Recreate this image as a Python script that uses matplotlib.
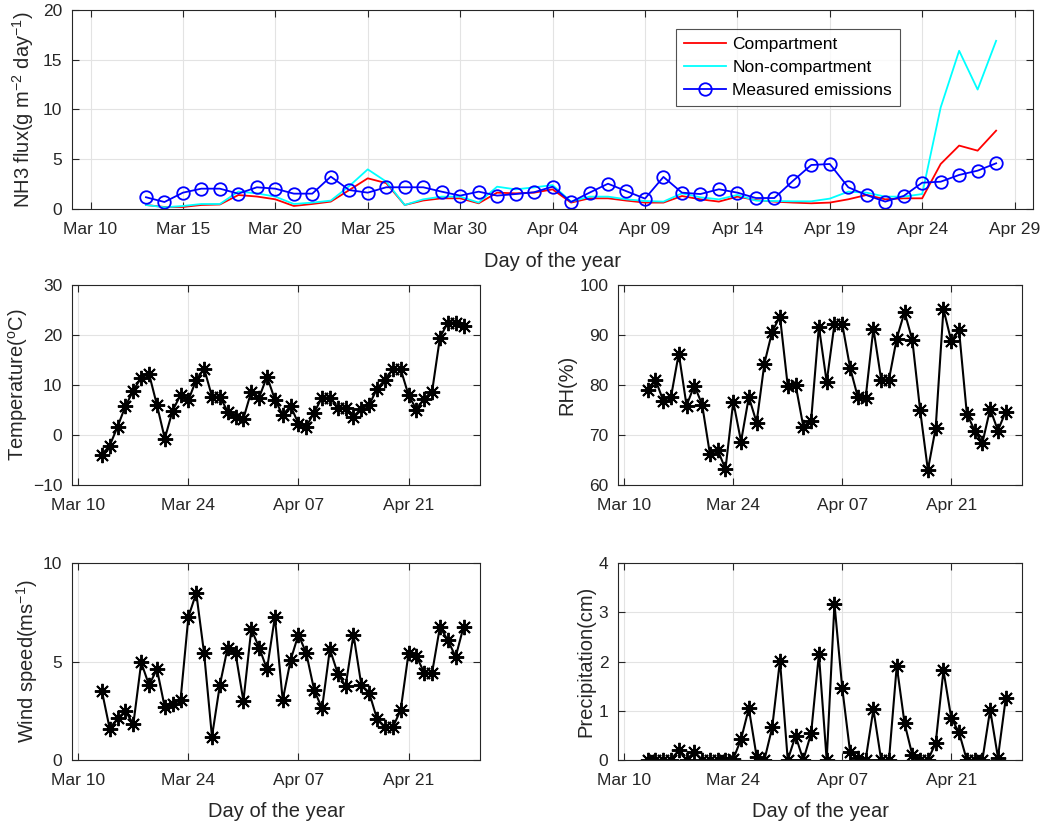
import numpy as np
import matplotlib
matplotlib.use("Agg")
import matplotlib.pyplot as plt
import matplotlib.dates as mdates

plt.rcParams['font.family'] = ['Liberation Sans', 'DejaVu Sans']
plt.rcParams['mathtext.default'] = 'regular'

# days Mar 13 .. Apr 28
days = np.arange('2017-03-13', '2017-04-29', dtype='datetime64[D]').astype('O')

compartment = [0.4, 0.2, 0.2, 0.4, 0.45, 1.4, 1.25, 0.97, 0.3, 0.5, 0.74, 1.9, 3.08, 2.6, 0.4, 0.85,
               1.07, 1.07, 0.57, 1.64, 1.57, 1.64, 1.97, 0.64, 1.07, 1.07, 0.84, 0.64, 0.64, 1.3, 0.97, 0.74,
               1.24, 0.9, 0.74, 0.64, 0.57, 0.64, 0.97, 1.41, 0.97, 1.07, 1.07, 4.52, 6.37, 5.86, 7.87]
non_compartment = [0.4, 0.17, 0.3, 0.5, 0.5, 1.75, 1.57, 1.24, 0.5, 0.64, 0.84, 2.3, 3.98, 2.75, 0.4, 0.97,
                   1.24, 1.24, 0.64, 2.24, 1.97, 2.17, 2.4, 0.74, 1.24, 1.24, 0.97, 0.8, 0.74, 1.57, 1.17, 0.97,
                   1.41, 0.84, 0.8, 0.77, 0.77, 1.04, 1.74, 1.64, 1.24, 1.24, 1.5, 10.2, 15.9, 12.0, 16.9]
measured = [1.18, 0.7, 1.64, 2.04, 2.04, 1.54, 2.18, 2.04, 1.54, 1.54, 3.25, 1.9, 1.64, 2.18, 2.18, 2.18,
            1.74, 1.34, 1.74, 1.34, 1.5, 1.68, 2.24, 0.7, 1.64, 2.54, 1.78, 1.04, 3.22, 1.64, 1.5, 1.98,
            1.64, 1.1, 1.1, 2.81, 4.42, 4.52, 2.18, 1.38, 0.74, 1.31, 2.64, 2.74, 3.42, 3.85, 4.59]

temperature = [-3.9, -2.1, 1.7, 5.8, 8.9, 11.5, 12.2, 6.0, -0.7, 4.9, 8.0, 7.0, 11.0, 13.3, 7.7, 7.7,
               4.7, 3.7, 3.3, 8.7, 7.5, 11.7, 7.1, 4.0, 5.8, 2.3, 1.7, 4.5, 7.5, 7.5, 5.5, 5.5,
               3.7, 5.3, 6.0, 9.3, 11.0, 13.2, 13.2, 8.0, 5.1, 7.3, 8.7, 19.5, 22.5, 22.5, 21.9]
rh = [79.0, 81.1, 76.9, 77.6, 86.3, 75.9, 79.9, 76.1, 66.2, 67.0, 63.2, 76.7, 68.7, 77.6, 72.5, 84.3,
      90.7, 93.7, 79.8, 80.1, 71.7, 72.9, 91.7, 80.6, 92.2, 92.2, 83.5, 77.6, 77.4, 91.3, 81.1, 81.1,
      89.3, 94.6, 89.0, 75.0, 63.0, 71.4, 95.2, 88.8, 91.0, 74.3, 70.9, 68.4, 75.2, 70.9, 74.7]
wind = [3.5, 1.57, 2.11, 2.48, 1.82, 4.95, 3.8, 4.61, 2.67, 2.84, 3.04, 7.26, 8.48, 5.41, 1.18, 3.8,
        5.71, 5.41, 2.99, 6.64, 5.71, 4.61, 7.26, 3.04, 5.07, 6.37, 5.41, 3.55, 2.62, 5.63, 4.39, 3.75,
        6.37, 3.8, 3.41, 2.08, 1.66, 1.66, 2.53, 5.41, 5.27, 4.43, 4.43, 6.76, 6.08, 5.24, 6.76]
precip = [0, 0, 0, 0, 0.2, 0, 0.17, 0, 0, 0, 0, 0.02, 0.42, 1.05, 0.07, 0.0,
          0.66, 2.02, 0, 0.49, 0, 0.54, 2.15, 0, 3.17, 1.46, 0.17, 0.05, 0, 1.03, 0, 0,
          1.91, 0.75, 0.1, 0, 0, 0.34, 1.82, 0.85, 0.56, 0, 0, 0, 1.02, 0.05, 1.25]

ink = '#262626'
grid_c = '#e3e3e3'
star = (8, 2, 0)


def style(ax):
    ax.tick_params(direction='in', top=True, right=True, colors=ink, labelsize=12.5,
                   length=5, width=0.8)
    ax.tick_params(axis='x', pad=9.5)
    ax.tick_params(axis='y', pad=7)
    for s in ax.spines.values():
        s.set_color(ink)
        s.set_linewidth(0.8)
    ax.grid(True, color=grid_c, linewidth=0.8)
    ax.set_axisbelow(True)


fig = plt.figure(figsize=(10.47, 8.24), dpi=100)

# top panel: NH3 flux
ax = fig.add_axes([0.0688, 0.7464, 0.9179, 0.2415])
ax.plot(days, compartment, color='red', lw=1.3, label='Compartment')
ax.plot(days, non_compartment, color='cyan', lw=1.3, label='Non-compartment')
ax.plot(days, measured, color='blue', lw=1.3, marker='o', ms=9, mfc='none', mew=1.3,
        label='Measured emissions')
ax.set_xlim(np.datetime64('2017-03-09').astype('O'), np.datetime64('2017-04-30').astype('O'))
ax.set_ylim(0, 20)
ax.set_yticks([0, 5, 10, 15, 20])
ticks = np.arange('2017-03-10', '2017-04-30', 5, dtype='datetime64[D]').astype('O')
ax.set_xticks(ticks)
ax.xaxis.set_major_formatter(mdates.DateFormatter('%b %d'))
ax.set_xlabel('Day of the year', fontsize=14.5, color=ink, labelpad=11)
ax.set_ylabel('NH3 flux(g m$^{-2}$ day$^{-1}$)', fontsize=14.5, color=ink, labelpad=5)
style(ax)
leg = ax.legend(loc='upper left', bbox_to_anchor=(0.6285, 0.905), fontsize=12.5, frameon=True,
                fancybox=False, edgecolor=ink, borderpad=0.45, borderaxespad=0,
                handlelength=2.4, handletextpad=0.4, labelspacing=0.45)
leg.get_frame().set_linewidth(0.8)

low_ticks = np.array(['2017-03-10', '2017-03-24', '2017-04-07', '2017-04-21'],
                     dtype='datetime64[D]').astype('O')
x0 = mdates.date2num(np.datetime64('2017-03-10').astype('O'))
low_lim = (x0 - 0.8, x0 + 51.1)

panels = [
    ([0.0688, 0.4114, 0.3897, 0.2427], temperature, (-10, 30), [-10, 0, 10, 20, 30],
     'Temperature($^o$C)', False),
    ([0.5903, 0.4114, 0.3859, 0.2427], rh, (60, 100), [60, 70, 80, 90, 100], 'RH(%)', False),
    ([0.0688, 0.0777, 0.3897, 0.2390], wind, (0, 10), [0, 5, 10], 'Wind speed(ms$^{-1}$)', True),
    ([0.5903, 0.0777, 0.3859, 0.2390], precip, (0, 4), [0, 1, 2, 3, 4], 'Precipitation(cm)', True),
]

for pos, vals, ylim, yt, ylab, xl in panels:
    a = fig.add_axes(pos)
    a.plot(days, vals, color='black', lw=1.5, marker=star, ms=11, mew=1.4)
    a.set_xlim(*low_lim)
    a.set_xticks(low_ticks)
    a.xaxis.set_major_formatter(mdates.DateFormatter('%b %d'))
    a.set_ylim(*ylim)
    a.set_yticks(yt)
    a.set_ylabel(ylab, fontsize=14.5, color=ink, labelpad=2)
    if xl:
        a.set_xlabel('Day of the year', fontsize=14.5, color=ink, labelpad=10)
    style(a)

fig.savefig('out.png', dpi=100)
